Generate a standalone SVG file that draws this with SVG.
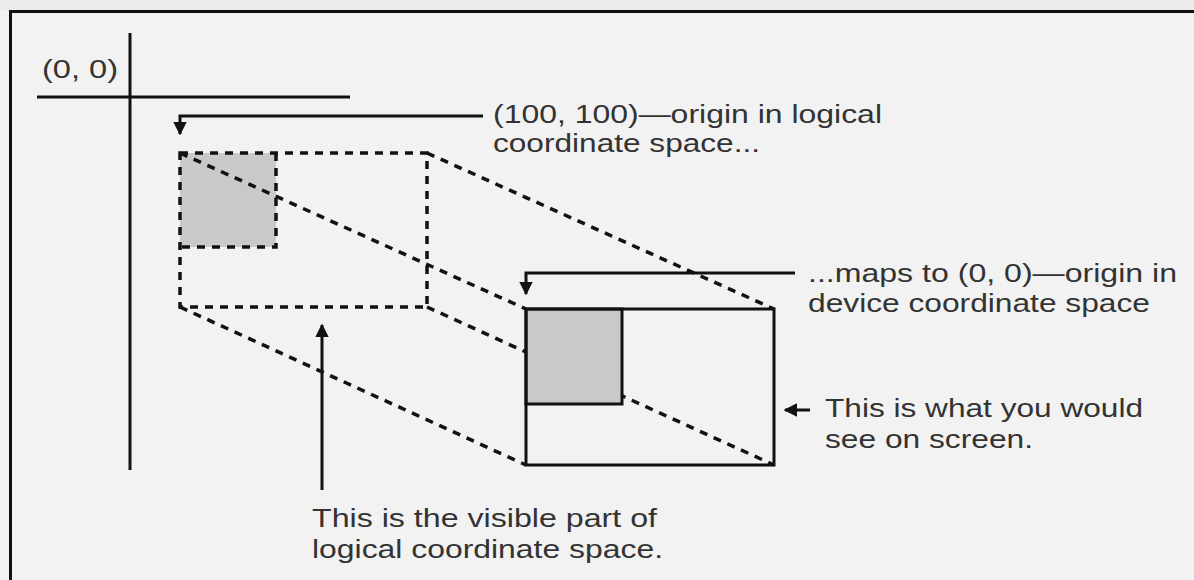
<svg xmlns="http://www.w3.org/2000/svg" width="1194" height="580" viewBox="0 0 1194 580">
<defs>
<style>
.t{font-family:"Liberation Sans",Arial,Helvetica,sans-serif;font-size:25px;fill:#333}
.ln{stroke:#111;stroke-width:3;fill:none}
.dash{stroke:#111;stroke-width:3.5;fill:none;stroke-dasharray:8 7}
.shade{fill:#c9c9c9}
</style>
<marker id="ah" viewBox="0 0 10 10" refX="9" refY="5" markerWidth="4.5" markerHeight="4.5" orient="auto" markerUnits="strokeWidth">
<path d="M0,0 L10,5 L0,10 z" fill="#111"/>
</marker>
</defs>
<rect x="0" y="0" width="1194" height="580" fill="#f2f2f2"/>
<rect x="0" y="0" width="1194" height="10" fill="#ebebeb"/>
<line x1="9" y1="11.5" x2="1194" y2="11.5" stroke="#111" stroke-width="3"/>
<line x1="10.5" y1="10" x2="10.5" y2="580" stroke="#111" stroke-width="3"/>

<g id="axes">
<line class="ln" x1="130" y1="33" x2="130" y2="470"/>
<line class="ln" x1="37" y1="97" x2="350" y2="97"/>
<text class="t" x="42" y="78" textLength="76" lengthAdjust="spacingAndGlyphs" fill="#555">(0, 0)</text>
</g>

<g id="logical-space">
<rect class="shade" x="180" y="153" width="96" height="94"/>
<rect class="dash" x="180" y="153" width="247" height="154"/>
<path class="dash" d="M276,153 V247 H180"/>
</g>

<g id="connectors">
<line class="dash" x1="180" y1="153" x2="526" y2="309"/>
<line class="dash" x1="427" y1="153" x2="774" y2="309"/>
<line class="dash" x1="180" y1="307" x2="526" y2="465"/>
<line class="dash" x1="427" y1="307" x2="774" y2="465"/>
<path class="ln" d="M483,116 H180 V134" marker-end="url(#ah)"/>
<path class="ln" d="M795,273 H526 V294" marker-end="url(#ah)"/>
<path class="ln" d="M810,410 H785" marker-end="url(#ah)"/>
<path class="ln" d="M322,490 V325" marker-end="url(#ah)"/>
</g>

<g id="device-space">
<rect class="shade" x="526" y="309" width="96" height="95"/>
<rect class="ln" x="526" y="309" width="248" height="156"/>
<rect class="ln" x="526" y="309" width="96" height="95"/>
</g>

<g id="label-logical-origin">
<text class="t" x="493" y="123" textLength="389" lengthAdjust="spacingAndGlyphs">(100, 100)—origin in logical</text>
<text class="t" x="493" y="152" textLength="267" lengthAdjust="spacingAndGlyphs">coordinate space...</text>
</g>
<g id="label-device-origin">
<text class="t" x="808" y="282" textLength="369" lengthAdjust="spacingAndGlyphs">...maps to (0, 0)—origin in</text>
<text class="t" x="808" y="312" textLength="342" lengthAdjust="spacingAndGlyphs">device coordinate space</text>
</g>
<g id="label-screen">
<text class="t" x="825" y="417" textLength="318" lengthAdjust="spacingAndGlyphs">This is what you would</text>
<text class="t" x="825" y="448" textLength="208" lengthAdjust="spacingAndGlyphs">see on screen.</text>
</g>
<g id="label-visible">
<text class="t" x="312" y="527" textLength="345" lengthAdjust="spacingAndGlyphs">This is the visible part of</text>
<text class="t" x="312" y="558" textLength="351" lengthAdjust="spacingAndGlyphs">logical coordinate space.</text>
</g>
</svg>
